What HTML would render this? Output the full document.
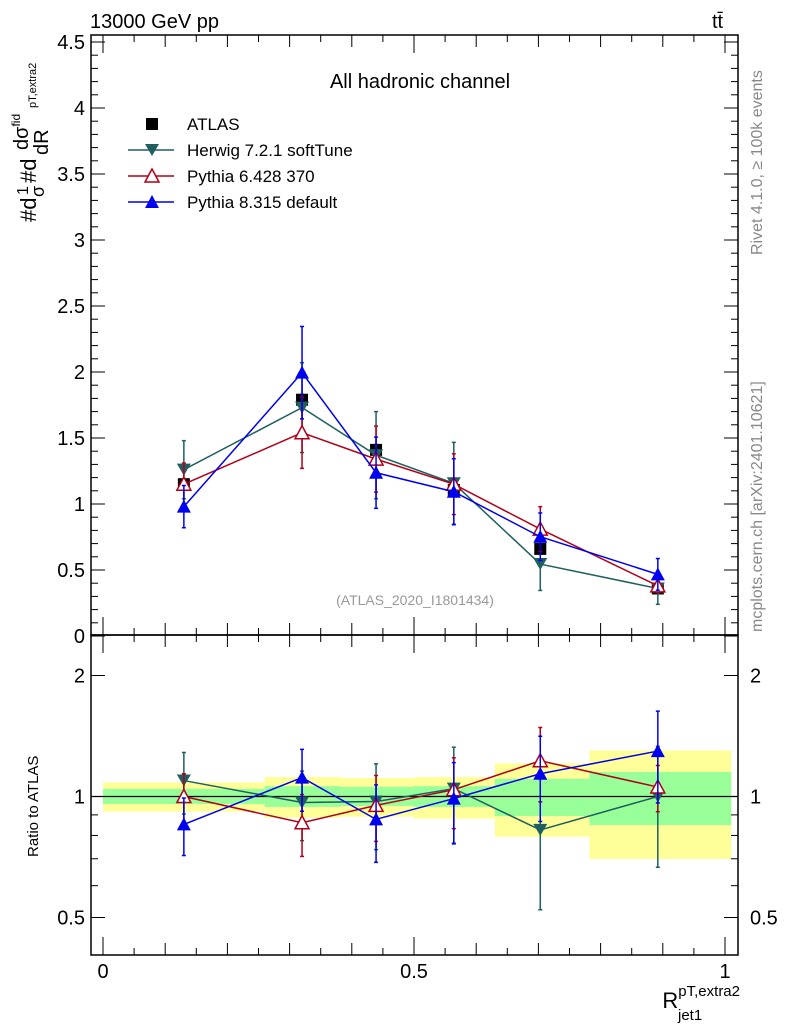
<!DOCTYPE html>
<html><head><meta charset="utf-8"><style>
body{margin:0;background:#fff;}
svg text{font-family:"Liberation Sans",sans-serif;}
</style></head><body>
<svg id="c" width="786" height="1024" xmlns="http://www.w3.org/2000/svg">
<text x="90" y="28" font-size="20">13000 GeV pp</text>
<text x="712" y="28" font-size="20">tt̄</text>
<text x="420" y="88" font-size="20" text-anchor="middle">All hadronic channel</text>
<text transform="translate(762,255) rotate(-90)" font-size="16" fill="#888">Rivet 4.1.0, ≥ 100k events</text>
<text transform="translate(762,632) rotate(-90)" font-size="16" fill="#888">mcplots.cern.ch [arXiv:2401.10621]</text>
<text x="415" y="605" font-size="14" fill="#999" text-anchor="middle">(ATLAS_2020_I1801434)</text>
<g>
<text transform="translate(36,222) rotate(-90)" font-size="22">#d</text>
<text transform="translate(28,195) rotate(-90)" font-size="16">1</text>
<text transform="translate(44,197) rotate(-90)" font-size="18">σ</text>
<text transform="translate(36,183) rotate(-90)" font-size="22">#d</text>
<text transform="translate(28,150) rotate(-90)" font-size="20">dσ<tspan font-size="12" dy="-8">fid</tspan></text>
<text transform="translate(36,108) rotate(-90)" font-size="11">pT,extra2</text>
<text transform="translate(48,155) rotate(-90)" font-size="20">dR</text>
</g>
<text transform="translate(38,857) rotate(-90)" font-size="15">Ratio to ATLAS</text>
<text x="740" y="1008" font-size="22" text-anchor="end">R<tspan font-size="15" dy="-12">pT,extra2</tspan><tspan font-size="15" dx="-62" dy="24">jet1</tspan></text>
<g id="legend"></g>
<g id="plot"></g>
</svg>
<script>
const xs=[0.13,0.32,0.439,0.564,0.703,0.892];
const atlas=[1.15,1.79,1.41,1.106,0.66,0.36];
const atlasErr=[0.03,0.04,0.04,0.03,0.03,0.02];
const herwig=[1.26,1.73,1.37,1.157,0.545,0.36];
const herwigErr=[0.22,0.34,0.33,0.31,0.2,0.12];
const py6=[1.15,1.54,1.34,1.15,0.81,0.38];
const py6Err=[0.16,0.27,0.25,0.23,0.17,0.05];
const py8=[0.98,1.995,1.237,1.093,0.752,0.467];
const py8Err=[0.16,0.35,0.27,0.25,0.18,0.12];
const binEdges=[0,0.26,0.383,0.5,0.63,0.782,1.01];
const yellowHi=[1.084,1.118,1.112,1.118,1.209,1.302];
const yellowLo=[0.917,0.886,0.891,0.881,0.794,0.699];
const greenHi=[1.045,1.061,1.057,1.061,1.107,1.151];
const greenLo=[0.958,0.942,0.947,0.942,0.894,0.849];
const mainTicks=[0,0.5,1,1.5,2,2.5,3,3.5,4,4.5];
const mainTickLabels=["0","0.5","1","1.5","2","2.5","3","3.5","4","4.5"];
const ratioTicks=[0.5,1,2];
const ratioTickLabels=["0.5","1","2"];
const xTicks=[0,0.5,1];
const xTickLabels=["0","0.5","1"];

const NS="http://www.w3.org/2000/svg";
const P=document.getElementById('plot');
const L=91,R=738,T=35,MB=635,RB=955;
const X=v=>103+v*622;
const Y=v=>636-v*132;
const YR=r=>796.5-121*Math.log2(r);
function mk(tag,a,parent){const e=document.createElementNS(NS,tag);for(const k in a)e.setAttribute(k,a[k]);(parent||P).appendChild(e);return e;}

for(let i=0;i<binEdges.length-1;i++){
  const x0=X(binEdges[i]),x1=X(binEdges[i+1]);
  const y=mk('rect',{x:x0,y:YR(yellowHi[i]),width:x1-x0,height:YR(yellowLo[i])-YR(yellowHi[i]),fill:'#ffff99'});
  
  
  const g=mk('rect',{x:x0,y:YR(greenHi[i]),width:x1-x0,height:YR(greenLo[i])-YR(greenHi[i]),fill:'#99ff99'});
  
  
}
mk('line',{x1:L,x2:R,y1:YR(1),y2:YR(1),stroke:'#000','stroke-width':1.3});

const f1=mk('rect',{x:L,y:T,width:R-L,height:MB-T,fill:'none',stroke:'#000','stroke-width':1.5});


const f2=mk('rect',{x:L,y:MB,width:R-L,height:RB-MB,fill:'none',stroke:'#000','stroke-width':1.5});



mainTicks.forEach((v,i)=>{
  const y=Y(v);
  mk('line',{x1:L,x2:L+14,y1:y,y2:y,stroke:'#000'});mk('line',{x1:R-14,x2:R,y1:y,y2:y,stroke:'#000'});
  if(i<mainTicks.length-1)for(let k=1;k<5;k++){const yy=Y(v+k*0.1);mk('line',{x1:L,x2:L+7,y1:yy,y2:yy,stroke:'#000'});mk('line',{x1:R-7,x2:R,y1:yy,y2:yy,stroke:'#000'});}
  const t=mk('text',{x:L-6,y:y+7,'font-size':20,'text-anchor':'end'});t.textContent=mainTickLabels[i];
  
  
});
[0.5,0.6,0.7,0.8,0.9,1,2].forEach(v=>{const y=YR(v);const big=ratioTicks.includes(v);const w=big?14:7;
  mk('line',{x1:L,x2:L+w,y1:y,y2:y,stroke:'#000'});mk('line',{x1:R-w,x2:R,y1:y,y2:y,stroke:'#000'});});
ratioTicks.forEach((v,i)=>{
  const t=mk('text',{x:L-6,y:YR(v)+7,'font-size':20,'text-anchor':'end'});t.textContent=ratioTickLabels[i];
  
  
  const t2=mk('text',{x:R+12,y:YR(v)+7,'font-size':20});t2.textContent=ratioTickLabels[i];
  
  
});
for(let k=0;k<=20;k++){const v=k*0.05;const x=X(v);const big=k%10==0;const h=big?18:(k%2==0?12:7);
  mk('line',{x1:x,x2:x,y1:RB,y2:RB-h,stroke:'#000'});mk('line',{x1:x,x2:x,y1:MB,y2:MB-h,stroke:'#000'});
  mk('line',{x1:x,x2:x,y1:MB,y2:MB+h,stroke:'#000'});mk('line',{x1:x,x2:x,y1:T,y2:T+h,stroke:'#000'});}
xTicks.forEach((v,i)=>{const t=mk('text',{x:X(v),y:978,'font-size':20,'text-anchor':'middle'});t.textContent=xTickLabels[i];
  
  });

function marker(x,y,type,col,parent){
  if(type==='sq')mk('rect',{x:x-6,y:y-6,width:12,height:12,fill:col},parent);
  else if(type==='down')mk('polygon',{points:`${x-7},${y-6} ${x+7},${y-6} ${x},${y+6}`,fill:col},parent);
  else if(type==='up')mk('polygon',{points:`${x-7},${y+6} ${x+7},${y+6} ${x},${y-7}`,fill:col},parent);
  else if(type==='open')mk('polygon',{points:`${x-7},${y+6} ${x+7},${y+6} ${x},${y-7}`,fill:'#fff',stroke:col,'stroke-width':1.5},parent);
}
function series(vals,errs,col,type,name,line){
  const g=mk('g',{});
  
  
  const gr=mk('g',{});
  
  
  if(line){
    mk('polyline',{points:xs.map((x,i)=>X(x)+','+Y(vals[i])).join(' '),fill:'none',stroke:col,'stroke-width':1.5},g);
    mk('polyline',{points:xs.map((x,i)=>X(x)+','+YR(vals[i]/atlas[i])).join(' '),fill:'none',stroke:col,'stroke-width':1.5},gr);
  }
  xs.forEach((xv,i)=>{const x=X(xv);
    const a=Y(vals[i]+errs[i]),b=Y(vals[i]-errs[i]);
    mk('line',{x1:x,x2:x,y1:a,y2:b,stroke:col,'stroke-width':1.5},g);
    mk('line',{x1:x-2,x2:x+2,y1:a,y2:a,stroke:col,'stroke-width':1.5},g);mk('line',{x1:x-2,x2:x+2,y1:b,y2:b,stroke:col,'stroke-width':1.5},g);
    marker(x,Y(vals[i]),type,col,g);
    if(line){const r=vals[i]/atlas[i];const ra=YR(r+errs[i]/atlas[i]),rb=YR(Math.max(0.3,r-errs[i]/atlas[i]));
      mk('line',{x1:x,x2:x,y1:ra,y2:rb,stroke:col,'stroke-width':1.5},gr);
      mk('line',{x1:x-2,x2:x+2,y1:ra,y2:ra,stroke:col,'stroke-width':1.5},gr);mk('line',{x1:x-2,x2:x+2,y1:rb,y2:rb,stroke:col,'stroke-width':1.5},gr);
      marker(x,YR(r),type,col,gr);}
  });
}
series(atlas,atlasErr,'#000','sq','atlas-series',false);
series(herwig,herwigErr,'#1f5f5f','down','herwig-series',true);
series(py6,py6Err,'#b0001a','open','pythia6-series',true);
series(py8,py8Err,'#0000ee','up','pythia8-series',true);

const LG=document.getElementById('legend');
const leg=[["ATLAS",'#000','sq',false],["Herwig 7.2.1 softTune",'#1f5f5f','down',true],["Pythia 6.428 370",'#b0001a','open',true],["Pythia 8.315 default",'#0000ee','up',true]];
leg.forEach((l,i)=>{const y=124+i*26;
  const g=mk('g',{},LG);
  
  
  if(l[3])mk('line',{x1:128,x2:174,y1:y,y2:y,stroke:l[1],'stroke-width':1.5},g);
  marker(152,y,l[2],l[1],g);
  const t=mk('text',{x:187,y:y+6,'font-size':17},g);t.textContent=l[0];
});
</script>
</body></html>
